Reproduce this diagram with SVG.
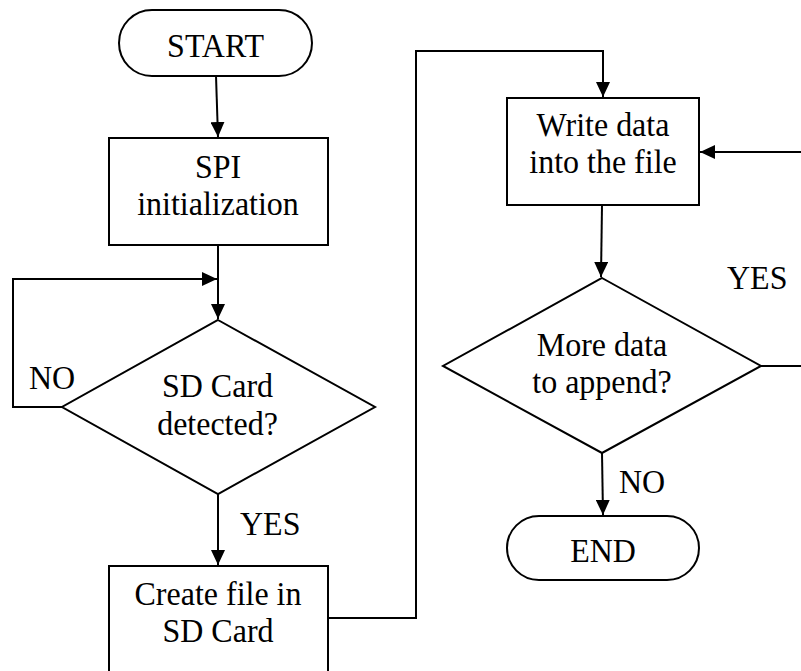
<svg xmlns="http://www.w3.org/2000/svg" width="801" height="671" viewBox="0 0 801 671">
  <style>
    .shape { fill: #ffffff; stroke: #000000; stroke-width: 2; }
    .conn { fill: none; stroke: #000000; stroke-width: 2; }
    .t { font-family: "Liberation Serif", "Times New Roman", serif; font-size: 32px; fill: #000000; }
    .c { text-anchor: middle; }
  </style>
  <defs>
    <marker id="arrow" markerUnits="userSpaceOnUse" markerWidth="16" markerHeight="14" refX="15" refY="7" orient="auto">
      <path d="M0,0 L15,7 L0,14 z" fill="#000000"/>
    </marker>
  </defs>
  <rect width="801" height="671" fill="#ffffff"/>

  <g id="connectors">
    <path class="conn" d="M216,76 L218,137" marker-end="url(#arrow)"/>
    <path class="conn" d="M218,245 V319" marker-end="url(#arrow)"/>
    <path class="conn" d="M62,407 H13 V279 H217" marker-end="url(#arrow)"/>
    <path class="conn" d="M218,494 V565" marker-end="url(#arrow)"/>
    <path class="conn" d="M328,618 H416 V51 H603 V97" marker-end="url(#arrow)"/>
    <path class="conn" d="M602,205 L601,277" marker-end="url(#arrow)"/>
    <path class="conn" d="M602,453 L603,515" marker-end="url(#arrow)"/>
    <path class="conn" d="M761,366 H803"/>
    <path class="conn" d="M803,152 H700" marker-end="url(#arrow)"/>
  </g>

  <g id="start">
    <rect class="shape" x="119" y="10" width="193" height="66" rx="33" ry="33"/>
    <text class="t c" transform="translate(215.5,57) scale(1,1.07)">START</text>
  </g>

  <g id="spi-init">
    <rect class="shape" x="109" y="138" width="219" height="107"/>
    <text class="t c" transform="translate(218,178) scale(1,1.07)">SPI</text>
    <text class="t c" transform="translate(218,215) scale(1,1.07)">initialization</text>
  </g>

  <g id="sd-detected">
    <polygon class="shape" points="218,320 375,407 218,494 62,407"/>
    <text class="t c" transform="translate(217.5,397) scale(1,1.07)">SD Card</text>
    <text class="t c" transform="translate(217.5,435) scale(1,1.07)">detected?</text>
  </g>

  <g id="label-no-1">
    <text class="t" transform="translate(29,389) scale(1,1.07)">NO</text>
  </g>

  <g id="label-yes-1">
    <text class="t" transform="translate(240,535) scale(1,1.07)">YES</text>
  </g>

  <g id="create-file">
    <rect class="shape" x="109" y="566" width="219" height="120"/>
    <text class="t c" transform="translate(218,605) scale(1,1.07)">Create file in</text>
    <text class="t c" transform="translate(218,642) scale(1,1.07)">SD Card</text>
  </g>

  <g id="write-data">
    <rect class="shape" x="507" y="98" width="192" height="107"/>
    <text class="t c" transform="translate(603,136) scale(1,1.07)">Write data</text>
    <text class="t c" transform="translate(603,173) scale(1,1.07)">into the file</text>
  </g>

  <g id="label-yes-2">
    <text class="t" transform="translate(727,289) scale(1,1.07)">YES</text>
  </g>

  <g id="more-data">
    <polygon class="shape" points="602,278 761,366 602,453 443,366"/>
    <text class="t c" transform="translate(602,356) scale(1,1.07)">More data</text>
    <text class="t c" transform="translate(602,393) scale(1,1.07)">to append?</text>
  </g>

  <g id="label-no-2">
    <text class="t" transform="translate(619,493) scale(1,1.07)">NO</text>
  </g>

  <g id="end">
    <rect class="shape" x="507" y="516" width="192" height="64" rx="32" ry="32"/>
    <text class="t c" transform="translate(603,562) scale(1,1.07)">END</text>
  </g>
</svg>
